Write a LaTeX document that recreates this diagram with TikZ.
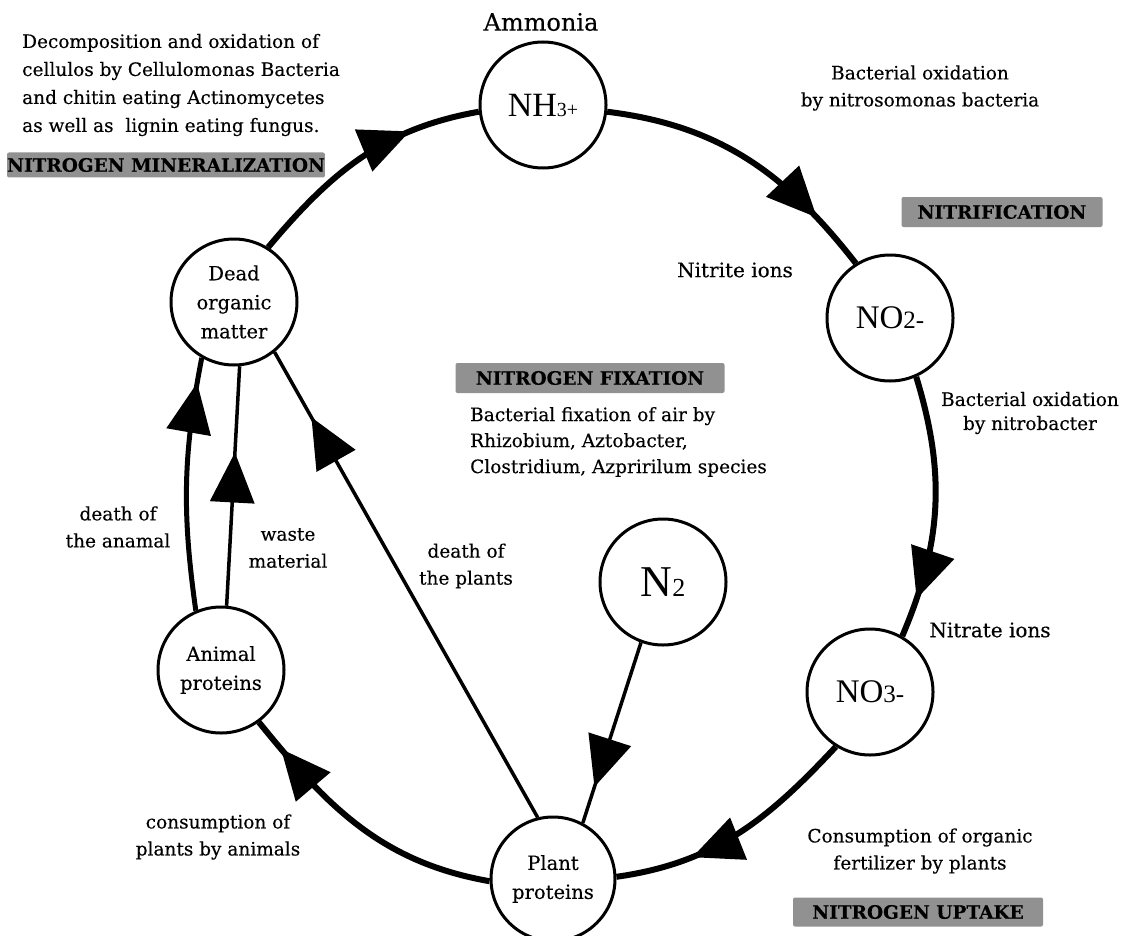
\documentclass[tikz,border=0pt]{standalone}
\usepackage{fontspec}
\setmainfont{DejaVu Serif}[FakeBold=0.3]
\newfontfamily\formfont{Liberation Serif}
\usetikzlibrary{arrows.meta,decorations.markings}
\definecolor{boxgray}{RGB}{145,145,145}
\begin{document}
\begin{tikzpicture}[x=1pt,y=1pt,
  cnode/.style={circle,draw,line width=3pt,minimum size=126pt,inner sep=0pt,align=center,font=\fontsize{19.5}{29}\selectfont},
  txt/.style={font=\fontsize{18.5}{27}\selectfont,align=center,inner sep=0pt},
  graybox/.style={fill=boxgray,rounded corners=2pt,inner sep=0pt,font=\bfseries\fontsize{18.5}{20}\selectfont},
  cyclelink/.style={line width=6pt},
  thinlink/.style={line width=3.5pt},
  midarrow/.style={postaction={decorate},decoration={markings,mark=at position #1 with {\arrow{Triangle[length=50pt,width=44pt]}}}},
]
\useasboundingbox (0,0) rectangle (1126,-936);

% circles
\node[cnode] (nh3) at (543,-105) {\formfont\fontsize{34}{34}\selectfont NH{\fontsize{20}{20}\selectfont 3+}};
\node[cnode] (no2) at (890,-318) {\formfont\fontsize{33}{33}\selectfont NO{\fontsize{25}{25}\selectfont 2-}};
\node[cnode] (no3) at (870,-692) {\formfont\fontsize{33}{33}\selectfont NO{\fontsize{25}{25}\selectfont 3-}};
\node[cnode] (n2) at (663,-582) {\formfont\fontsize{44}{44}\selectfont N{\fontsize{26}{26}\selectfont 2}};
\node[cnode,minimum size=124pt] (plant) at (553,-879) {Plant\\proteins};
\node[cnode] (animal) at (221,-670) {Animal\\proteins};
\node[cnode] (dead) at (234,-302) {Dead\\organic\\matter};

% main cycle
\draw[cyclelink,midarrow=0.72] (dead.58) to[out=50,in=190] (nh3.186);
\draw[cyclelink,midarrow=0.8] (nh3.-6) to[out=-7,in=128] (no2.122);
\draw[cyclelink,midarrow=0.85] (no2.-66) to[out=-73,in=67] (no3.60);
\draw[cyclelink,midarrow=0.7] (no3.238) to[out=-133,in=8] (plant.2);
\draw[cyclelink,midarrow=0.88] (plant.182) to[out=170,in=-51] (animal.-54);
% other links
\draw[line width=5pt,midarrow=0.9] (animal.113) to[out=98,in=259] (dead.240);
\draw[thinlink,midarrow=0.64] (animal.85) -- (dead.275);
\draw[thinlink,midarrow=0.86] (plant.104) -- (dead.-51);
\draw[thinlink,midarrow=0.8] (n2.250) -- (plant.62);

% labels
\node[txt,font=\fontsize{24}{24}\selectfont] (ammonia) at (541,-22) {Ammonia};
\node[txt,align=left,anchor=west,font=\fontsize{18.5}{28}\selectfont] (minertxt) at (22,-85) {Decomposition and oxidation of\\cellulos by Cellulomonas Bacteria\\and chitin eating Actinomycetes\\as well as\ \ lignin eating fungus.};
\node[graybox,minimum width=317pt,minimum height=25pt] (miner) at (166,-165) {NITROGEN MINERALIZATION};
\node[txt] (nitrosotxt) at (920,-88) {Bacterial oxidation\\by nitrosomonas bacteria};
\node[graybox,minimum width=201pt,minimum height=30pt] (nitrif) at (1002,-212) {NITRIFICATION};
\node[txt,font=\fontsize{20}{20}\selectfont] (nitrite) at (735,-270) {Nitrite ions};
\node[txt,font=\fontsize{18.5}{24}\selectfont] (nitrobtxt) at (1030,-413) {Bacterial oxidation\\by nitrobacter};
\node[graybox,minimum width=269pt,minimum height=30pt] (fix) at (590,-378) {NITROGEN FIXATION};
\node[txt,align=left,anchor=west,font=\fontsize{18.5}{26}\selectfont] (fixtxt) at (470,-442) {Bacterial fixation of air by\\Rhizobium, Aztobacter,\\Clostridium, Azpririlum species};
\node[txt,font=\fontsize{20}{20}\selectfont] (nitrate) at (990,-630) {Nitrate ions};
\node[txt] (uptaketxt) at (920,-851) {Consumption of organic\\fertilizer by plants};
\node[graybox,minimum width=250pt,minimum height=29pt] (uptake) at (918,-912) {NITROGEN UPTAKE};
\node[txt] (deathanimal) at (118,-527) {death of\\the anamal};
\node[txt] (waste) at (288,-548) {waste\\material};
\node[txt] (deathplant) at (466,-566) {death of\\the plants};
\node[txt] (consume) at (218,-837) {consumption of\\plants by animals};
\end{tikzpicture}
\end{document}
